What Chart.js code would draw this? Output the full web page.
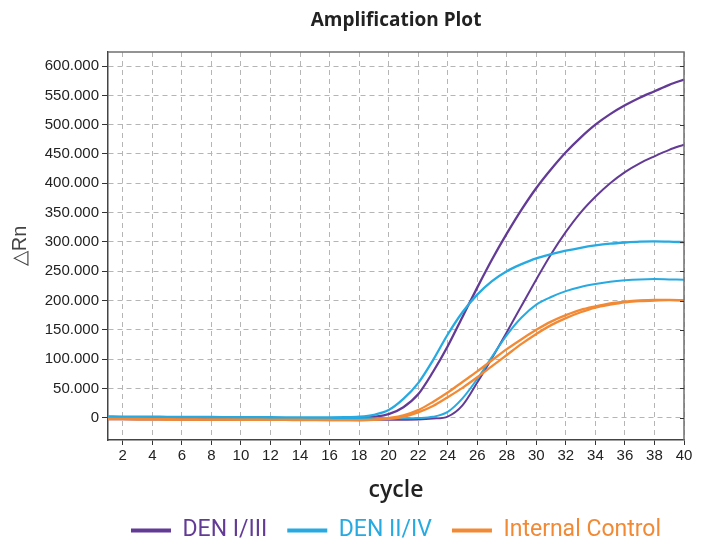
<!DOCTYPE html>
<html>
<head>
<meta charset="utf-8">
<script src="https://cdn.jsdelivr.net/npm/chart.js@4.4.1/dist/chart.umd.min.js"></script>
<style>
  html, body { margin: 0; padding: 0; background: #fff; }
  canvas { display: block; }
</style>
</head>
<body>
<canvas id="ampChart" width="706" height="542"></canvas>
<script>
// cycles 1..40
const cycles = [1, 2, 3, 4, 5, 6, 7, 8, 9, 10, 11, 12, 13, 14, 15, 16, 17, 18, 19, 20,
  21, 22, 23, 24, 25, 26, 27, 28, 29, 30, 31, 32, 33, 34, 35, 36, 37, 38, 39, 40];

// delta Rn, in thousands (axis shows 50.000 = 50,000)
const denI_a = [-2.0, -2.1, -2.2, -2.3, -2.4, -2.5, -2.6, -2.7, -2.8, -2.9, -3.0, -3.0, -3.1, -3.1, -3.1, -3.0, -2.6, -1.2, 1.5, 6,
  18, 40, 78, 122, 172, 222, 270, 314, 355, 392, 424, 453, 478, 500, 518, 533, 546, 557, 568, 577];
const denI_b = [-2.4, -2.5, -2.6, -2.7, -2.8, -2.9, -3.0, -3.1, -3.2, -3.3, -3.3, -3.4, -3.4, -3.5, -3.5, -3.5, -3.5, -3.5, -3.5, -3.4,
  -3.3, -3.0, -1.5, 2, 21, 60, 102, 146, 191, 236, 279, 317, 350, 377, 400, 419, 434, 446, 457, 466];
const denII_a = [2.2, 2.0, 1.9, 1.8, 1.6, 1.5, 1.4, 1.2, 1.1, 1.0, 0.9, 0.8, 0.7, 0.6, 0.6, 0.6, 0.8, 1.8, 5, 13,
  32, 59, 98, 142, 180, 210, 233, 250, 262, 272, 279, 285, 290, 294, 297, 299, 300.5, 301, 300.5, 299.5];
const denII_b = [1.5, 1.3, 1.1, 0.9, 0.7, 0.5, 0.3, 0.1, -0.1, -0.3, -0.4, -0.5, -0.6, -0.7, -0.8, -0.9, -1.0, -1.0, -1.1, -1.1,
  -1.0, -0.6, 1.5, 10, 33, 66, 104, 141, 171, 193, 206, 216, 223, 228, 232, 234.5, 236, 236.5, 236, 235.5];
const ic_a = [-2.2, -2.4, -2.6, -2.8, -3.0, -3.1, -3.2, -3.3, -3.4, -3.5, -3.6, -3.7, -3.8, -3.9, -4.0, -4.1, -4.2, -4.3, -3.8, -2,
  1.5, 9, 20, 35, 51, 69, 88, 107, 126, 143, 158, 170, 180, 188, 193, 197, 199, 200, 200.5, 200];
const ic_b = [-1.8, -2.0, -2.2, -2.4, -2.6, -2.8, -3.0, -3.1, -3.2, -3.3, -3.4, -3.5, -3.6, -3.7, -3.8, -3.9, -4.0, -4.0, -3.4, -0.5,
  4, 13, 27, 43, 61, 79, 98, 117, 134, 150, 164, 175, 184, 190, 195, 198, 200, 201, 201, 200.5];

const xTicks = [2, 4, 6, 8, 10, 12, 14, 16, 18, 20, 22, 24, 26, 28, 30, 32, 34, 36, 38, 40];
const yTicks = [0, 50, 100, 150, 200, 250, 300, 350, 400, 450, 500, 550, 600];
const yTickLabels = ['0', '50.000', '100.000', '150.000', '200.000', '250.000', '300.000',
  '350.000', '400.000', '450.000', '500.000', '550.000', '600.000'];

const legendNames = ['DEN I/III', 'DEN II/IV', 'Internal Control'];

const purple = '#633b96';
const blue = '#27aae1';
const orange = '#f28a35';
const legendColors = [purple, blue, orange];

function line(values, color, width) {
  return {
    data: values.map((v, i) => ({ x: cycles[i], y: v })),
    borderColor: color,
    borderWidth: width,
    pointRadius: 0,
    fill: false,
    cubicInterpolationMode: 'monotone'
  };
}

// top/right frame of the plot + small ticks on the right edge
const framePlugin = {
  id: 'frame',
  afterDraw(chart) {
    const { ctx, chartArea: a, scales } = chart;
    ctx.save();
    ctx.strokeStyle = '#707070';
    ctx.lineWidth = 1.5;
    ctx.beginPath();
    ctx.moveTo(a.left, a.top);
    ctx.lineTo(a.right, a.top);
    ctx.lineTo(a.right, a.bottom);
    ctx.stroke();
    ctx.strokeStyle = '#333';
    ctx.lineWidth = 1;
    scales.y.ticks.forEach(t => {
      const py = Math.round(scales.y.getPixelForValue(t.value)) + 0.5;
      ctx.beginPath();
      ctx.moveTo(a.right - 4, py);
      ctx.lineTo(a.right, py);
      ctx.stroke();
    });
    ctx.restore();
  }
};

const ctx = document.getElementById('ampChart');
new Chart(ctx, {
  type: 'line',
  data: {
    datasets: [
      line(ic_a, orange, 2.3),
      line(ic_b, orange, 2.3),
      line(denII_a, blue, 2.3),
      line(denII_b, blue, 2),
      line(denI_a, purple, 2.3),
      line(denI_b, purple, 2)
    ]
  },
  options: {
    responsive: false,
    animation: false,
    events: [],
    layout: { padding: { left: 0, right: 22, top: 0, bottom: -10 } },
    scales: {
      x: {
        type: 'linear',
        min: 1,
        max: 40,
        afterBuildTicks: s => { s.ticks = xTicks.map(v => ({ value: v })); },
        afterFit: s => { s.height = 59; },
        ticks: {
          color: '#222',
          padding: 2,
          maxRotation: 0,
          font: { family: 'Liberation Sans', size: 15 },
          callback: v => String(v)
        },
        grid: {
          color: '#b5b5b5',
          lineWidth: 1,
          tickColor: '#333',
          tickLength: 5,
          tickBorderDash: []
        },
        border: { display: true, color: '#444', width: 1.5, dash: [5, 4] },
        title: {
          display: true,
          text: 'cycle',
          color: '#222',
          font: { family: 'Open Sans', size: 23, weight: '600' },
          padding: { top: 0, bottom: -5 }
        }
      },
      y: {
        min: -38,
        max: 624,
        afterBuildTicks: s => { s.ticks = yTicks.map(v => ({ value: v })); },
        afterFit: s => { s.width = 108; },
        ticks: {
          color: '#222',
          padding: 3,
          font: { family: 'Liberation Sans', size: 15 },
          callback: (v, i) => yTickLabels[i]
        },
        grid: {
          color: '#b5b5b5',
          lineWidth: 1,
          tickColor: '#333',
          tickLength: 6,
          tickBorderDash: []
        },
        border: { display: true, color: '#444', width: 1.5, dash: [5, 4] },
        title: {
          display: true,
          text: '△Rn',
          color: '#444',
          font: { family: 'Liberation Sans', size: 20 },
          padding: { top: 8, bottom: 0 }
        }
      }
    },
    plugins: {
      title: {
        display: true,
        text: 'Amplification Plot',
        fullSize: false,
        color: '#222',
        font: { family: 'Open Sans', size: 19, weight: 'bold' },
        padding: { top: 9, bottom: 20.2 }
      },
      legend: {
        position: 'bottom',
        fullSize: false,
        labels: {
          boxWidth: 40,
          boxHeight: 4,
          padding: 20,
          font: { family: 'Roboto', size: 23 },
          generateLabels: () => legendNames.map((name, i) => ({
            text: name,
            fillStyle: legendColors[i],
            strokeStyle: legendColors[i],
            lineWidth: 0,
            fontColor: legendColors[i],
            hidden: false,
            datasetIndex: i * 2
          }))
        }
      },
      tooltip: { enabled: false }
    }
  },
  plugins: [framePlugin]
});
</script>
</body>
</html>
